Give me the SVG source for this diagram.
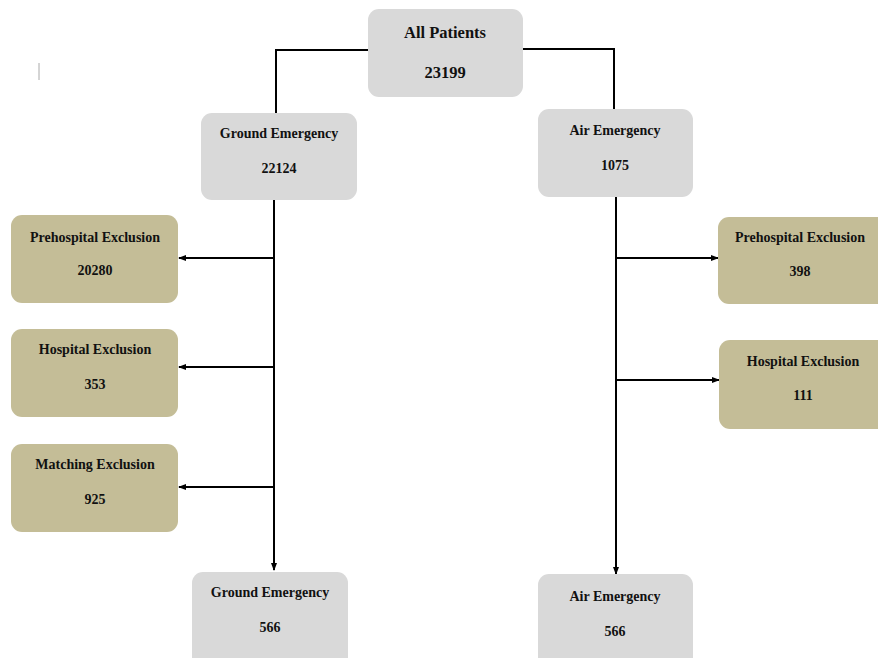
<svg xmlns="http://www.w3.org/2000/svg" width="878" height="658" viewBox="0 0 878 658">
<style>
.g{fill:#d9d9d9}
.t{fill:#c4bd97}
text{font-family:"Liberation Serif","Times New Roman",serif;font-weight:bold;font-size:14px;fill:#111;text-anchor:middle}
.big{font-size:16.5px}
.c{stroke:#000;stroke-width:2;fill:none}
</style>
<defs>
<marker id="ah" markerWidth="8" markerHeight="8" refX="7" refY="4" orient="auto" markerUnits="userSpaceOnUse">
<path d="M0,1 L8,4 L0,7 Z" fill="#000"/>
</marker>
</defs>
<rect width="878" height="658" fill="#fff"/>
<line x1="39" y1="63" x2="39" y2="80" stroke="#aaa" stroke-width="1"/>
<g id="connectors">
<path class="c" d="M368,50 H276 V113"/>
<path class="c" d="M523,49 H614 V109"/>
<path class="c" d="M274,200 V570" marker-end="url(#ah)"/>
<path class="c" d="M616,197 V574" marker-end="url(#ah)"/>
<path class="c" d="M274,258 H179" marker-end="url(#ah)"/>
<path class="c" d="M274,367 H179" marker-end="url(#ah)"/>
<path class="c" d="M274,487 H179" marker-end="url(#ah)"/>
<path class="c" d="M616,258 H718" marker-end="url(#ah)"/>
<path class="c" d="M616,380 H719" marker-end="url(#ah)"/>
</g>
<g id="all"><rect class="g" x="368" y="9" width="155" height="88" rx="11"/><text class="big" x="445" y="38">All Patients</text><text class="big" x="445" y="78">23199</text></g>
<g id="ground"><rect class="g" x="201" y="113" width="156" height="87" rx="11"/><text x="279" y="138">Ground Emergency</text><text x="279" y="173">22124</text></g>
<g id="air"><rect class="g" x="538" y="109" width="155" height="88" rx="11"/><text x="615" y="135">Air Emergency</text><text x="615" y="170">1075</text></g>
<g id="gpre"><rect class="t" x="11" y="215" width="167" height="88" rx="11"/><text x="95" y="242">Prehospital Exclusion</text><text x="95" y="275">20280</text></g>
<g id="ghos"><rect class="t" x="11" y="329" width="167" height="88" rx="11"/><text x="95" y="354">Hospital Exclusion</text><text x="95" y="389">353</text></g>
<g id="gmat"><rect class="t" x="11" y="444" width="167" height="88" rx="11"/><text x="95" y="469">Matching Exclusion</text><text x="95" y="504">925</text></g>
<g id="apre"><rect class="t" x="718" y="217" width="172" height="87" rx="11"/><text x="800" y="242">Prehospital Exclusion</text><text x="800" y="276">398</text></g>
<g id="ahos"><rect class="t" x="719" y="340" width="171" height="89" rx="11"/><text x="803" y="366">Hospital Exclusion</text><text x="803" y="400">111</text></g>
<g id="gfin"><rect class="g" x="192" y="572" width="156" height="96" rx="11"/><text x="270" y="597">Ground Emergency</text><text x="270" y="632">566</text></g>
<g id="afin"><rect class="g" x="538" y="574" width="155" height="94" rx="11"/><text x="615" y="601">Air Emergency</text><text x="615" y="636">566</text></g>
</svg>
